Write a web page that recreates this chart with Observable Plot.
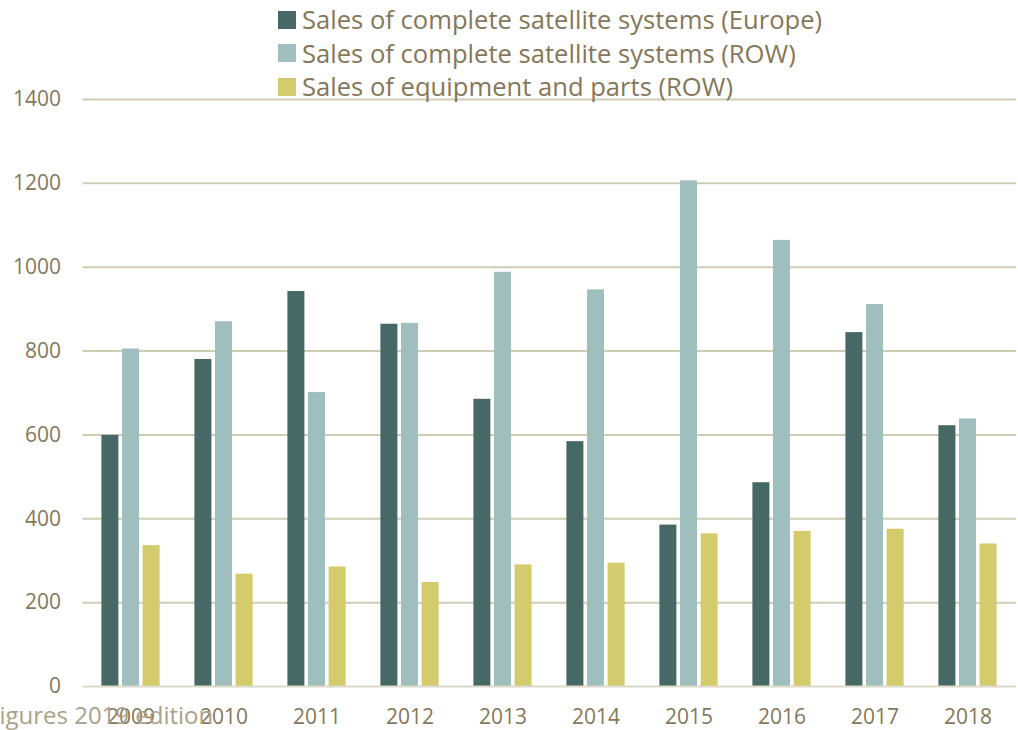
<!DOCTYPE html>
<html>
<head>
<meta charset="utf-8">
<script src="https://cdn.jsdelivr.net/npm/d3@7"></script>
<script src="https://cdn.jsdelivr.net/npm/@observablehq/plot@0.6"></script>
<style>
  html, body { margin: 0; padding: 0; background: #fff; }
  body { width: 1018px; height: 730px; position: relative; overflow: hidden; font-family: "Open Sans", sans-serif; }
  #chart { position: absolute; left: 0; top: 0; }
  #legend { position: absolute; left: 278px; top: 3px; color: #857759; font-size: 25.6px; line-height: 33.5px; }
  #legend .item { display: flex; align-items: center; white-space: nowrap; }
  #legend .sw { width: 18px; height: 18px; margin-right: 6px; display: inline-block; }
  #caption { position: absolute; left: -13px; top: 698px; color: #aaa189; font-size: 24px; white-space: nowrap; }
</style>
</head>
<body>
<div id="chart"></div>
<div id="legend"></div>
<div id="caption">Figures 2019 edition</div>
<script>
const years = ["2009","2010","2011","2012","2013","2014","2015","2016","2017","2018"];
const seriesNames = [
  "Sales of complete satellite systems (Europe)",
  "Sales of complete satellite systems (ROW)",
  "Sales of equipment and parts (ROW)"
];
const seriesColors = ["#476966", "#9fbfbe", "#d3cb6c"];
const europe = [599, 780, 942, 864, 685, 584, 385, 486, 844, 622];
const row    = [805, 870, 701, 866, 988, 946, 1206, 1064, 911, 638];
const parts  = [336, 268, 285, 248, 290, 294, 364, 370, 375, 340];
const yTicks = [0, 200, 400, 600, 800, 1000, 1200, 1400];

const valuesBySeries = [europe, row, parts];
const tables = valuesBySeries.map((vals, j) =>
  years.map((yr, i) => ({year: yr, series: seriesNames[j], value: vals[i]}))
);
const offsets = [-20.6, 0, 20.6];

const chart = Plot.plot({
  width: 1018,
  height: 730,
  marginTop: 99,
  marginBottom: 44,
  marginLeft: 82.5,
  marginRight: 2,
  style: {fontFamily: "'Open Sans', sans-serif", fontSize: "21px", color: "#857759", background: "transparent"},
  x: {type: "band", domain: years, paddingInner: 0.822, paddingOuter: 0.411, align: 0.5, label: null, axis: null},
  y: {domain: [0, 1400], label: null, axis: null},
  color: {domain: seriesNames, range: seriesColors},
  marks: [
    Plot.ruleY(yTicks.filter(d => d > 0), {stroke: "#cfccb4", strokeWidth: 2}),
    Plot.axisY({ticks: yTicks, tickFormat: d => String(d), tickSize: 0, tickPadding: 22, anchor: "left", fontSize: 21, fill: "#857759", label: null}),
    Plot.axisX({tickSize: 0, tickPadding: 23, anchor: "bottom", fontSize: 21, fill: "#857759", label: null}),
    ...tables.map((t, j) => Plot.barY(t, {x: "year", y: "value", fill: "series", dx: offsets[j]})),
    Plot.ruleY([0], {stroke: "#dcd9c9", strokeWidth: 2})
  ]
});
document.getElementById("chart").appendChild(chart);

const legend = document.getElementById("legend");
seriesNames.forEach((s, j) => {
  const d = document.createElement("div");
  d.className = "item";
  d.innerHTML = `<span class="sw" style="background:${seriesColors[j]}"></span><span>${s}</span>`;
  legend.appendChild(d);
});
</script>
</body>
</html>
